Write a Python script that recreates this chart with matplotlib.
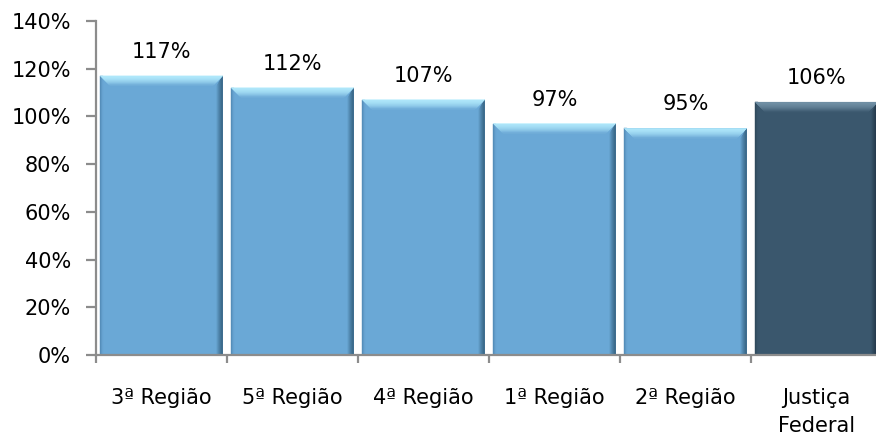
import matplotlib
matplotlib.use("Agg")
import matplotlib.pyplot as plt
from matplotlib.patches import Polygon
import numpy as np
import matplotlib.colors as mcolors

categories = ["3ª Região", "5ª Região", "4ª Região", "1ª Região", "2ª Região", "Justiça\nFederal"]
values = [117, 112, 107, 97, 95, 106]
labels = ["117%", "112%", "107%", "97%", "95%", "106%"]
yticks = [0, 20, 40, 60, 80, 100, 120, 140]
yticklabels = ["0%", "20%", "40%", "60%", "80%", "100%", "120%", "140%"]

plt.rcParams['font.family'] = ['DejaVu Sans']

W, H = 876, 443
fig = plt.figure(figsize=(W / 100, H / 100), dpi=100)
ax_left, ax_right = 96, 882
ax_top, ax_bot = 21, 355
ax = fig.add_axes([ax_left / W, (H - ax_bot) / H, (ax_right - ax_left) / W, (ax_bot - ax_top) / H])

ax.set_xlim(-0.5, len(categories) - 0.5)
ax.set_ylim(0, 140)

light = {"main": "#6aa8d6", "top": "#b4ecfd", "right": "#34607f", "left": "#4f86b2"}
dark = {"main": "#3a576d", "top": "#7493a8", "right": "#1f3242", "left": "#2d4658"}

px_x = 1.0 / 131.0
px_y = 140.0 / 334.0
bw = 0.935
x = np.arange(len(categories))

def mix(c1, c2, t):
    a = np.array(mcolors.to_rgb(c1)); b = np.array(mcolors.to_rgb(c2))
    return tuple(a * (1 - t) + b * t)

def poly(pts, col, z):
    ax.add_patch(Polygon(pts, closed=True, facecolor=col, edgecolor=col, lw=0.3, zorder=z))

for i, (xi, v) in enumerate(zip(x, values)):
    pal = dark if i == len(values) - 1 else light
    ax.bar(xi, v, width=bw, color=pal["main"], edgecolor="none", zorder=2)
    x0, x1 = xi - bw / 2, xi + bw / 2
    # right bevel
    n = 6
    rw = 6 * px_x
    bev = 10
    for k in range(n):
        t0, t1 = k / n, (k + 1) / n
        xa, xb = x1 - rw * (1 - t0), x1 - rw * (1 - t1)
        col = mix(pal["main"], pal["right"], ((k + 0.5) / n) ** 0.8)
        poly([(xa, 0), (xb, 0), (xb, v - bev * px_y * (1 - t1)), (xa, v - bev * px_y * (1 - t0))], col, 3)
    # left bevel
    lw_ = 3 * px_x
    for k in range(3):
        t0, t1 = k / 3, (k + 1) / 3
        xa, xb = x0 + lw_ * t0, x0 + lw_ * t1
        col = mix(pal["left"], pal["main"], (k + 0.5) / 3)
        poly([(xa, 0), (xb, 0), (xb, v), (xa, v)], col, 3)
    # top bevel
    n = 10
    th = bev * px_y
    tdx = bev * px_x
    for k in range(n):
        t0, t1 = k / n, (k + 1) / n
        ya, yb = v - th * t0, v - th * t1
        xl0, xl1 = x0 + tdx * t0, x0 + tdx * t1
        xr0, xr1 = x1 - tdx * t0, x1 - tdx * t1
        col = mix(pal["top"], pal["main"], ((k + 0.5) / n) ** 1.8)
        poly([(xl0, ya), (xr0, ya), (xr1, yb), (xl1, yb)], col, 4)
    ax.annotate(labels[i], (xi, v), xytext=(0, 13), textcoords="offset points",
                ha="center", va="baseline", fontsize=15, color="black", zorder=5)

spine_col = "#8c8c8c"
for s in ["top", "right"]:
    ax.spines[s].set_visible(False)
for s in ["left", "bottom"]:
    ax.spines[s].set_color(spine_col)
    ax.spines[s].set_linewidth(1.6)
    ax.spines[s].set_zorder(6)

ax.set_yticks(yticks)
ax.set_yticklabels(yticklabels)
ax.set_xticks(np.arange(len(categories) + 1) - 0.5, minor=True)
ax.set_xticks(x)
ax.set_xticklabels(categories, linespacing=1.5)
ax.tick_params(axis="x", which="major", length=0, pad=24, labelsize=15)
ax.tick_params(axis="x", which="minor", length=6, width=1.6, color=spine_col)
ax.tick_params(axis="y", length=7, width=1.6, color=spine_col, pad=11, labelsize=15)

fig.savefig("out.png", dpi=100)
